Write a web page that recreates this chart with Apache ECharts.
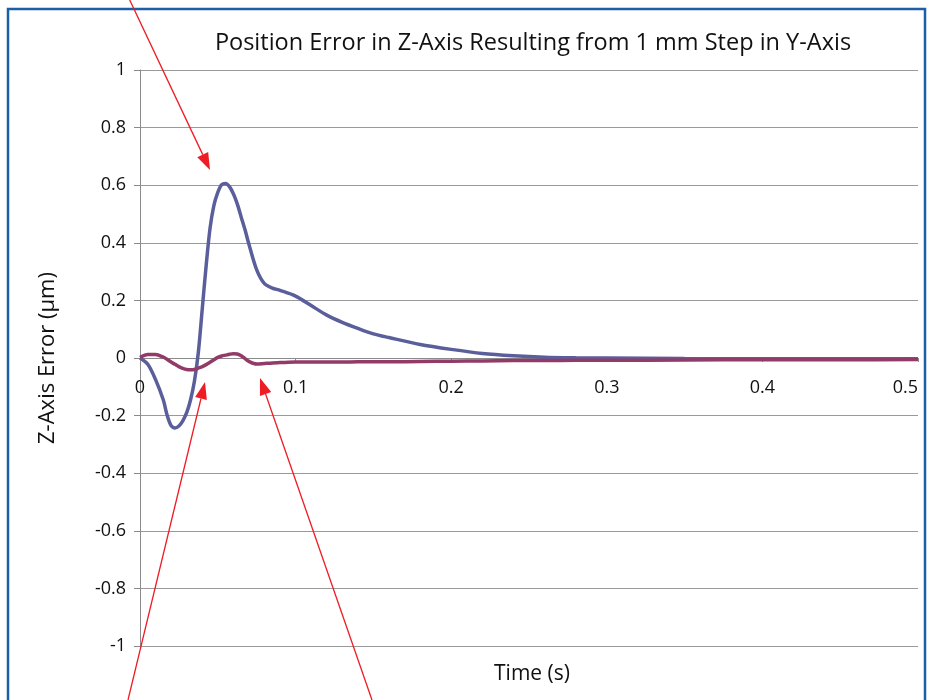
<!DOCTYPE html>
<html>
<head>
<meta charset="utf-8">
<script src="https://cdn.jsdelivr.net/npm/echarts@6/dist/echarts.min.js"></script>
<style>
  html, body { margin: 0; padding: 0; background: #fff; }
  #chart { width: 930px; height: 700px; }
</style>
</head>
<body>
<div id="chart"></div>
<script>
// time samples (s)
var timeS = [0, 0.005, 0.01, 0.015, 0.0175, 0.02, 0.0225, 0.025, 0.0275, 0.03, 0.0325, 0.035, 0.0375, 0.04, 0.0425, 0.045, 0.0475,
  0.05, 0.0525, 0.055, 0.0575, 0.06, 0.0625, 0.065, 0.0675, 0.07, 0.075, 0.08, 0.085, 0.09,
  0.1, 0.11, 0.12, 0.13, 0.14, 0.15, 0.16, 0.18, 0.2, 0.22, 0.24, 0.26, 0.28, 0.3, 0.35, 0.4, 0.45, 0.5]
// z-axis error, large response (µm)
var errBlue = [0, -0.022, -0.075, -0.146, -0.2, -0.235, -0.243, -0.236, -0.218, -0.19, -0.145, -0.08, 0.02, 0.17, 0.32, 0.45, 0.53,
  0.575, 0.602, 0.606, 0.595, 0.57, 0.535, 0.49, 0.445, 0.395, 0.306, 0.258, 0.243, 0.235,
  0.215, 0.182, 0.149, 0.124, 0.103, 0.084, 0.071, 0.047, 0.03, 0.016, 0.008, 0.003, 0.001, 0, -0.002, -0.003, -0.003, -0.003]
// z-axis error, small response (µm)
var errPurple = [0.002, 0.012, 0.012, 0.003, -0.005, -0.014, -0.022, -0.03, -0.036, -0.04, -0.041, -0.04, -0.035, -0.03, -0.023, -0.015, -0.006,
  0.002, 0.007, 0.01, 0.013, 0.015, 0.014, 0.008, -0.002, -0.012, -0.021, -0.019, -0.017, -0.016,
  -0.014, -0.014, -0.014, -0.014, -0.013, -0.013, -0.013, -0.012, -0.011, -0.01, -0.009, -0.009, -0.008, -0.008, -0.007, -0.006, -0.006, -0.005]

var font = 'Open Sans'
var red = '#ee1c24'

// red call-out arrows drawn over the chart
function arrow (x1, y1, x2, y2) {
  var dx = x2 - x1, dy = y2 - y1
  var len = Math.sqrt(dx * dx + dy * dy)
  var ux = dx / len, uy = dy / len
  var hl = 17, hw = 6
  var bx = x2 - ux * hl, by = y2 - uy * hl
  return [
    { type: 'line', z: 100, shape: { x1: x1, y1: y1, x2: bx, y2: by }, style: { stroke: red, lineWidth: 1.3 } },
    { type: 'polygon', z: 100, shape: { points: [[x2, y2], [bx - uy * hw, by + ux * hw], [bx + uy * hw, by - ux * hw]] }, style: { fill: red } }
  ]
}

var chart = echarts.init(document.getElementById('chart'))
chart.setOption({
  animation: false,
  backgroundColor: '#fff',
  title: [
    {
      text: 'Position Error in Z-Axis Resulting from 1 mm Step in Y-Axis',
      left: 528,
      top: 26,
      textAlign: 'center',
      textStyle: { fontFamily: font, fontWeight: 'normal', fontSize: 23.5, color: '#111' }
    },
    {
      text: 'Time (s)',
      left: 527,
      top: 659,
      textAlign: 'center',
      textStyle: { fontFamily: font, fontWeight: 'normal', fontSize: 21, color: '#111' }
    }
  ],
  grid: { left: 140, right: 12, top: 70, bottom: 54, containLabel: false },
  xAxis: {
    type: 'value',
    min: 0,
    max: 0.5,
    interval: 0.1,
    // sit the axis on y = 0 (half of the 576px plot height)
    offset: -288,
    axisLine: { onZero: false, lineStyle: { color: '#8a8a8a', width: 1 } },
    axisTick: { show: true, length: 4, lineStyle: { color: '#8a8a8a' } },
    axisLabel: { margin: 21, fontFamily: font, fontSize: 18, color: '#111', alignMaxLabel: 'right' },
    splitLine: { show: false }
  },
  yAxis: {
    type: 'value',
    min: -1,
    max: 1,
    interval: 0.2,
    name: 'Z-Axis Error (µm)',
    nameLocation: 'middle',
    nameGap: 81,
    nameTextStyle: { fontFamily: font, fontSize: 22, color: '#111' },
    axisLine: { show: true, lineStyle: { color: '#8a8a8a', width: 1 } },
    axisTick: { show: true, length: 6, lineStyle: { color: '#8a8a8a' } },
    axisLabel: { margin: 14, fontFamily: font, fontSize: 18, color: '#111' },
    splitLine: { show: true, lineStyle: { color: '#999', width: 1 } }
  },
  series: [
    {
      name: 'large',
      type: 'line',
      data: timeS.map(function (t, i) { return [t, errBlue[i]] }),
      smooth: 0.3,
      symbol: 'none',
      lineStyle: { color: '#5a5e9b', width: 3.5 }
    },
    {
      name: 'small',
      type: 'line',
      data: timeS.map(function (t, i) { return [t, errPurple[i]] }),
      smooth: 0.3,
      symbol: 'none',
      lineStyle: { color: '#923a68', width: 3.5 }
    }
  ],
  graphic: [
    { type: 'rect', z: 90, shape: { x: 8, y: 9, width: 917, height: 720 }, style: { fill: 'none', stroke: '#1c5ea8', lineWidth: 2.5 } }
  ].concat(arrow(125, -10, 210, 170), arrow(128, 700, 205, 382), arrow(372, 700, 260, 378))
})
</script>
</body>
</html>
